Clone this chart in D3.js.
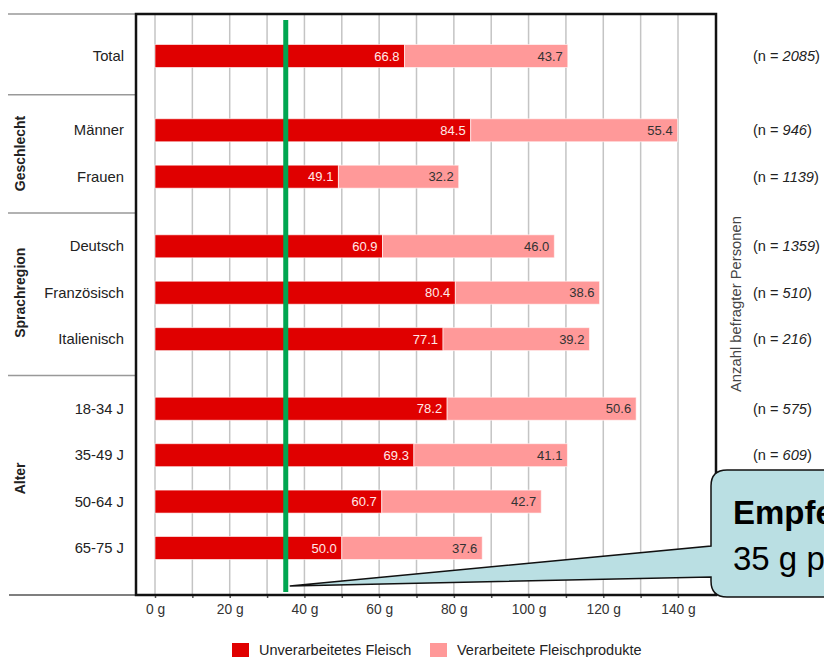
<!DOCTYPE html>
<html>
<head>
<meta charset="utf-8">
<script src="https://cdn.jsdelivr.net/npm/d3@7"></script>
<style>
  html, body { margin: 0; padding: 0; background: #fff; overflow: hidden; }
  svg { display: block; font-family: "Liberation Sans", Arial, sans-serif; }
</style>
</head>
<body>
<svg id="chart" width="824" height="657"></svg>
<script>
// Fleischkonsum pro Tag nach Bevölkerungsgruppe (g)
const categories = ["Total", "Männer", "Frauen", "Deutsch", "Französisch", "Italienisch",
                    "18-34 J", "35-49 J", "50-64 J", "65-75 J"];
const groupOf    = ["", "Geschlecht", "Geschlecht", "Sprachregion", "Sprachregion", "Sprachregion",
                    "Alter", "Alter", "Alter", "Alter"];
const unprocessed = [66.8, 84.5, 49.1, 60.9, 80.4, 77.1, 78.2, 69.3, 60.7, 50.0];
const processed   = [43.7, 55.4, 32.2, 46.0, 38.6, 39.2, 50.6, 41.1, 42.7, 37.6];
const respondents = [2085, 946, 1139, 1359, 510, 216, 575, 609, null, null];
const xTicks = [0, 20, 40, 60, 80, 100, 120, 140];
const seriesNames = ["Unverarbeitetes Fleisch", "Verarbeitete Fleischprodukte"];
const recommended = 35;
const calloutLines = ["Empfehlung:", "35 g pro Tag"];

const colors = ["#E00000", "#FF9999"];
const svg = d3.select("#chart");

// plot frame
const frame = { left: 136, right: 716, top: 14, bottom: 595 };
const x = d3.scaleLinear().domain([0, 140]).range([155, 678]);

// slot positions: one unit per row, wider gaps between groups
const slots = [];
let s = 0;
categories.forEach((c, i) => {
  if (i > 0) s += (groupOf[i] !== groupOf[i - 1]) ? (i === 1 ? 1.6 : 1.5) : 1;
  slots.push(s);
});
const y = d3.scaleLinear().domain([0, slots[slots.length - 1]]).range([56, 548]);
const barH = 23;

// vertical gridlines every 10 g
const gridVals = d3.range(0, 141, 10);
svg.append("g").selectAll("line").data(gridVals).join("line")
  .attr("x1", d => x(d)).attr("x2", d => x(d))
  .attr("y1", frame.top).attr("y2", frame.bottom)
  .attr("stroke", "#c4c4c4").attr("stroke-width", 1.5);

// group separators on the left
const seps = [frame.top];
for (let i = 1; i < categories.length; i++) {
  if (groupOf[i] !== groupOf[i - 1]) seps.push((y(slots[i - 1]) + y(slots[i])) / 2 + 1.5);
}
svg.append("g").selectAll("line").data(seps).join("line")
  .attr("x1", 8).attr("x2", frame.left)
  .attr("y1", d => d).attr("y2", d => d)
  .attr("stroke", "#999").attr("stroke-width", 1.5);
svg.append("line").attr("x1", 9).attr("x2", frame.left)
  .attr("y1", frame.bottom).attr("y2", frame.bottom)
  .attr("stroke", "#555").attr("stroke-width", 1.5);

// group titles (rotated)
const groupNames = Array.from(new Set(groupOf.filter(g => g)));
groupNames.forEach(g => {
  const idx = groupOf.map((v, i) => v === g ? i : -1).filter(i => i >= 0);
  const cy = (y(slots[idx[0]]) + y(slots[idx[idx.length - 1]])) / 2;
  svg.append("text")
    .attr("transform", `translate(25,${cy}) rotate(-90)`)
    .attr("text-anchor", "middle")
    .attr("font-size", 14).attr("font-weight", "bold").attr("fill", "#222")
    .text(g);
});

// category labels
svg.append("g").selectAll("text").data(categories).join("text")
  .attr("x", 124).attr("y", (d, i) => y(slots[i]) + 5)
  .attr("text-anchor", "end").attr("font-size", 14.8).attr("fill", "#222")
  .text(d => d);

// stacked bars
const rows = categories.map((c, i) => ({ c, i, u: unprocessed[i], p: processed[i] }));
const bars = svg.append("g");
bars.selectAll("rect.u").data(rows).join("rect").attr("class", "u")
  .attr("x", x(0)).attr("y", d => y(slots[d.i]) - barH / 2)
  .attr("width", d => x(d.u) - x(0)).attr("height", barH)
  .attr("fill", colors[0]).attr("stroke", "#fff").attr("stroke-opacity", 0.6);
bars.selectAll("rect.p").data(rows).join("rect").attr("class", "p")
  .attr("x", d => x(d.u)).attr("y", d => y(slots[d.i]) - barH / 2)
  .attr("width", d => x(d.u + d.p) - x(d.u)).attr("height", barH)
  .attr("fill", colors[1]).attr("stroke", "#fff").attr("stroke-opacity", 0.6);

// value labels
bars.selectAll("text.u").data(rows).join("text").attr("class", "u")
  .attr("x", d => x(d.u) - 5).attr("y", d => y(slots[d.i]) + 4.5)
  .attr("text-anchor", "end").attr("font-size", 13).attr("fill", "#ffe8e8")
  .text(d => d.u.toFixed(1));
bars.selectAll("text.p").data(rows).join("text").attr("class", "p")
  .attr("x", d => x(d.u + d.p) - 5).attr("y", d => y(slots[d.i]) + 4.5)
  .attr("text-anchor", "end").attr("font-size", 13).attr("fill", "#333")
  .text(d => d.p.toFixed(1));

// bottom axis
const axis = svg.append("g").attr("transform", `translate(0,${frame.bottom})`)
  .call(d3.axisBottom(x).tickValues(gridVals).tickSize(3).tickFormat(d => xTicks.includes(d) ? d + " g" : ""));
axis.select(".domain").remove();
axis.selectAll(".tick line").attr("stroke", "#555").attr("stroke-width", 1.5);
axis.selectAll(".tick text").attr("font-size", 13.8).attr("fill", "#333")
  .attr("font-family", "\"Liberation Sans\", Arial, sans-serif").attr("dy", "0.95em");

// frame
svg.append("rect")
  .attr("x", frame.left).attr("y", frame.top)
  .attr("width", frame.right - frame.left).attr("height", frame.bottom - frame.top)
  .attr("fill", "none").attr("stroke", "#111").attr("stroke-width", 2.5);

// respondent counts on the right
const nl = svg.append("g");
rows.forEach(d => {
  if (respondents[d.i] == null) return;
  const t = nl.append("text").attr("x", 753).attr("y", y(slots[d.i]) + 5)
    .attr("font-size", 14.6).attr("fill", "#222");
  t.append("tspan").text("(n = ");
  t.append("tspan").attr("font-style", "italic").text(respondents[d.i]);
  t.append("tspan").text(")");
});
svg.append("text")
  .attr("transform", "translate(741,304) rotate(-90)")
  .attr("text-anchor", "middle").attr("font-size", 14.8).attr("fill", "#444")
  .text("Anzahl befragter Personen");

// recommended intake line
svg.append("line")
  .attr("x1", x(recommended)).attr("x2", x(recommended))
  .attr("y1", 20).attr("y2", 592)
  .attr("stroke", "#00A651").attr("stroke-width", 5);

// legend
const legend = svg.append("g");
const legendX = [232, 430];
seriesNames.forEach((n, i) => {
  legend.append("rect").attr("x", legendX[i]).attr("y", 643).attr("width", 17).attr("height", 17)
    .attr("fill", colors[i]);
  legend.append("text").attr("x", legendX[i] + 27).attr("y", 655)
    .attr("font-size", 14.5).attr("fill", "#222").text(n);
});

// callout pointing at the recommendation line
const tip = [x(recommended) + 4, 586];
const L = 711, T = 470, R = 900, B = 597, r = 16, w1 = 546, w2 = 577;
const path = `M${L + r},${T} H${R} V${B} H${L + r} Q${L},${B} ${L},${B - r} V${w2} L${tip[0]},${tip[1]} L${L},${w1} V${T + r} Q${L},${T} ${L + r},${T} Z`;
svg.append("path").attr("d", path)
  .attr("fill", "#BADFE3").attr("stroke", "#111").attr("stroke-width", 1.5);
svg.append("text").attr("x", 733).attr("y", 524)
  .attr("font-size", 33).attr("font-weight", "bold").attr("fill", "#000").text(calloutLines[0]);
svg.append("text").attr("x", 733).attr("y", 570)
  .attr("font-size", 33).attr("fill", "#000").text(calloutLines[1]);
</script>
</body>
</html>
